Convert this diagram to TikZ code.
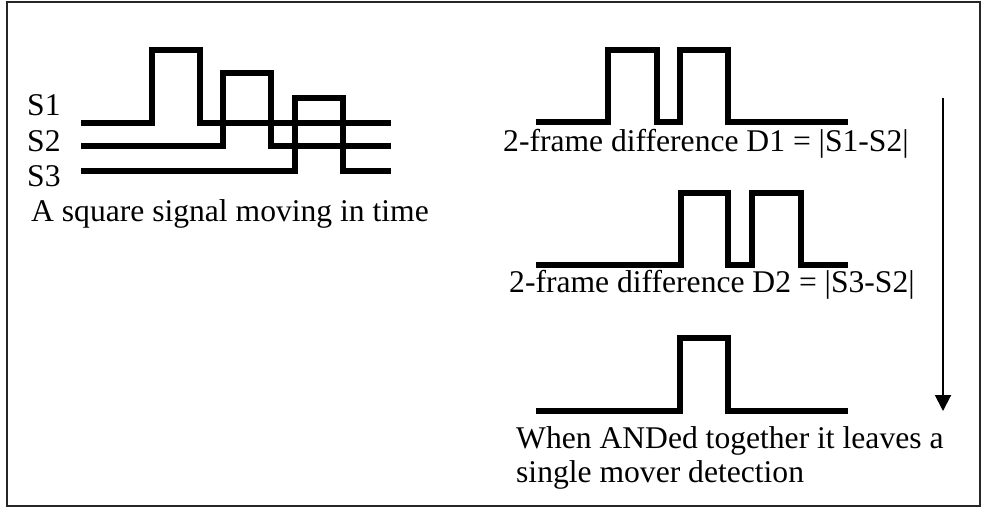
\documentclass[tikz,border=0pt]{standalone}
\usepackage{fontspec}
\setmainfont{Liberation Serif}
\usetikzlibrary{arrows.meta}
\tikzset{
  sig/.style ={line width=5.5pt, black, line join=miter},
  frame/.style={line width=2pt, black!85},
  tarrow/.style={-{Triangle[length=16pt, width=16pt]}, line width=2pt, black},
  txt/.style ={anchor=base west, inner sep=0pt,
               font=\fontsize{31.6}{35}\selectfont},
}

\begin{document}
\begin{tikzpicture}[x=1pt, y=-1pt]
  \useasboundingbox (0,0) rectangle (982,508);
  \draw[frame] (7,2) rectangle (980,506);
  % input signal, one pulse per frame
  \foreach \n/\y/\a/\b in {1/123/152/116, 2/146/223/151, 3/171/295/186} {
    \draw[sig] (81,\y) -- (\a,\y) -- (\a,\y-73) -- (\a+48,\y-73)
               -- (\a+48,\y) -- (391,\y);
    \node[txt] (s\n) at (27,\b) {S\n};
  }
  \node[txt] (cap) at (31,221) {A square signal moving in time};
  % differences
  \draw[sig] (536,122) -- (608,122) -- (608,50) -- (657,50) -- (657,122)
             -- (680,122) -- (680,50) -- (728,50) -- (728,122) -- (848,122);
  \node[txt] (d1) at (503,151) {2-frame difference D1 = |S1-S2|};
  \draw[sig] (536,265) -- (681,265) -- (681,193) -- (728,193) -- (728,265)
             -- (752,265) -- (752,193) -- (801,193) -- (801,265) -- (848,265);
  \node[txt] (d2) at (509,292) {2-frame difference D2 = |S3-S2|};
  \draw[sig] (536,411) -- (680,411) -- (680,338) -- (728,338) -- (728,411)
             -- (848,411);
  \node[txt] (and1) at (516,448) {When ANDed together it leaves a};
  \node[txt] (and2) at (516,482) {single mover detection};
  % time flows down
  \coordinate (atop) at (943,98);
  \coordinate (abot) at (943,411);
  \draw[tarrow] (atop) -- (abot);
\end{tikzpicture}
\end{document}
